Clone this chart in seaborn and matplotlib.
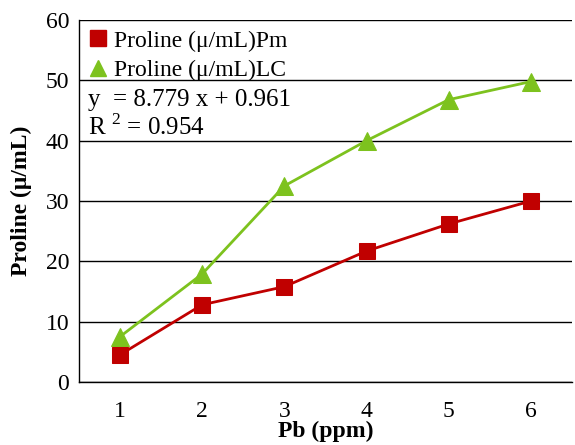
import numpy as np
import pandas as pd
import matplotlib
matplotlib.use("Agg")
import matplotlib.pyplot as plt
import seaborn as sns
from matplotlib.lines import Line2D

sns.set_style("white")
plt.rcParams['font.family'] = ['Liberation Serif', 'DejaVu Serif']
plt.rcParams['mathtext.fontset'] = 'custom'
plt.rcParams['mathtext.rm'] = 'Liberation Serif'
plt.rcParams['text.color'] = 'black'
plt.rcParams['axes.labelcolor'] = 'black'
plt.rcParams['xtick.color'] = 'black'
plt.rcParams['ytick.color'] = 'black'

# data
pb = [1, 2, 3, 4, 5, 6]
proline_pm = [4.5, 12.8, 15.8, 21.7, 26.2, 30.0]
proline_lc = [7.5, 17.9, 32.5, 40.0, 46.8, 49.8]
label_pm = "Proline (\u03bc/mL)Pm"
label_lc = "Proline (\u03bc/mL)LC"

red = "#C00000"
green = "#7DC21E"
fs = 17

df = pd.DataFrame({"Pb": pb, "Pm": proline_pm, "LC": proline_lc})

fig = plt.figure(figsize=(5.75, 4.45), dpi=100)
ax = fig.add_axes([0.137, 0.1416, 0.858, 0.8134])

sns.lineplot(data=df, x="Pb", y="LC", ax=ax, color=green, linewidth=2,
             marker="^", markersize=13, markeredgecolor=green)
sns.lineplot(data=df, x="Pb", y="Pm", ax=ax, color=red, linewidth=2,
             marker="s", markersize=12, markeredgecolor=red)

ax.set_xlim(0.5, 6.5)
ax.set_ylim(0, 60)
ax.set_yticks(np.arange(0, 61, 10))
ax.set_xticks(pb)
ax.set_xticks(np.arange(0.5, 6.6, 1), minor=True)
ax.tick_params(axis="x", which="major", length=0, labelsize=fs, pad=14)
ax.tick_params(axis="x", which="minor", length=5, width=1, color="black", direction="out")
ax.tick_params(axis="y", length=5, width=1, color="black", direction="out", labelsize=fs, pad=2)
ax.grid(axis="y", color="black", linewidth=1)
ax.set_axisbelow(True)

for s in ["top", "right"]:
    ax.spines[s].set_visible(False)
for s in ["left", "bottom"]:
    ax.spines[s].set_color("black")
    ax.spines[s].set_linewidth(1)

ax.set_xlabel("Pb (ppm)", fontsize=fs, fontweight="bold", labelpad=-1)
ax.set_ylabel("Proline (\u03bc/mL)", fontsize=fs, fontweight="bold", labelpad=10)

handles = [Line2D([], [], linestyle="none", marker="s", markersize=11, color=red),
           Line2D([], [], linestyle="none", marker="^", markersize=12, color=green)]
ax.legend(handles, [label_pm, label_lc], loc="upper left", frameon=False,
          fontsize=fs, handlelength=0.8, handletextpad=0.3, borderaxespad=0.0,
          labelspacing=0.35, borderpad=0.2, bbox_to_anchor=(0.01, 0.985))

ax.text(0.018, 0.78, "y  = 8.779 x + 0.961", transform=ax.transAxes,
        fontsize=18, va="center")
ax.text(0.018, 0.705, "R $^{2}$ = 0.954", transform=ax.transAxes,
        fontsize=18, va="center")

fig.savefig("out.png", dpi=100)
